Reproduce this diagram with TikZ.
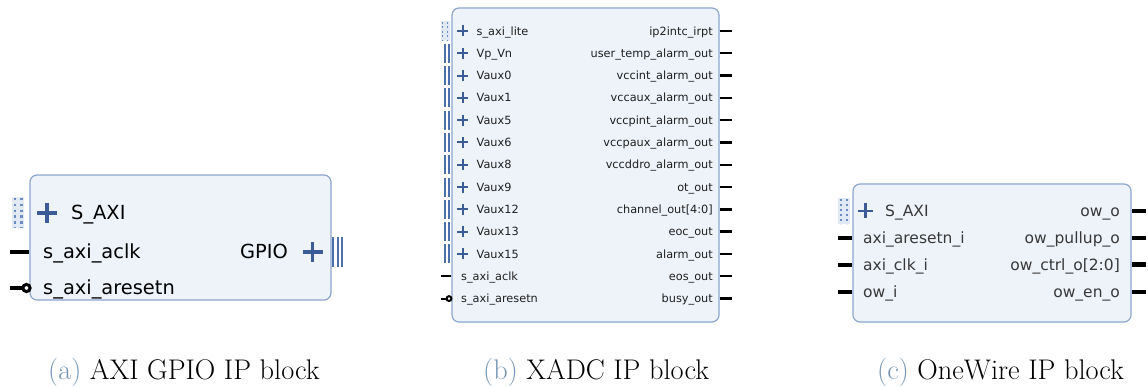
\documentclass[tikz,border=0pt]{standalone}
\usepackage{fontspec}
\newfontfamily\ipfont{DejaVu Sans}
\newfontfamily\capfont{Latin Modern Roman}
\usetikzlibrary{positioning,calc}

\definecolor{blockfill}{HTML}{EEF3FA}
\definecolor{blockline}{HTML}{8CA6CE}
\definecolor{plusblue}{HTML}{3B5C96}
\definecolor{busblue}{HTML}{4B70AA}
\definecolor{ifback}{HTML}{E1E9F5}
\definecolor{ifdots}{HTML}{6B8CC2}
\definecolor{capblue}{HTML}{7897B4}

\tikzset{
  addsign/.pic = {\draw (-1,0) -- (1,0) (0,-1) -- (0,1);}
}

\begin{document}
\begin{tikzpicture}[x=1pt,y=-1pt,
    ipblock/.style = {rectangle,rounded corners=7pt,draw=blockline,line width=1.2pt,fill=blockfill,inner sep=0pt},
    alabel/.style = {inner sep=0pt,text height=13.8pt,text depth=0pt,font=\ipfont\fontsize{19.4}{22}\selectfont},
    blabel/.style = {inner sep=0pt,text height=8.2pt,text depth=0pt,text=black!88,font=\ipfont\fontsize{11.3}{13}\selectfont},
    clabel/.style = {inner sep=0pt,text height=11.3pt,text depth=0pt,text=black!78,font=\ipfont\fontsize{15.5}{18}\selectfont},
    pinwire/.style = {draw=black,line width=#1},
    pinwire/.default = 3pt,
    plusmark/.style = {draw=plusblue,line cap=butt},
    busbar/.style = {draw=busblue,line width=#1},
    ifport/.style = {fill=ifback},
    ifdotted/.style = {draw=ifdots,line width=2.4pt,dash pattern=on 2.4pt off 3.4pt},
    captext/.style = {inner sep=0pt,text height=19pt,text depth=0pt,font=\capfont\fontsize{28.4}{32}\selectfont}
  ]
  \useasboundingbox (0,0) rectangle (1148,387);

  % (a) AXI GPIO
  \node (gpio) [ipblock,minimum width=301pt,minimum height=125pt] at (180.5,237.5) {};
  \fill[ifport] (12,197) rectangle (24,228);
  \draw[ifdotted] (15,198) -- (15,228) (21.5,198) -- (21.5,228);
  \pic[plusmark,scale=10,line width=3.4pt] at (47,213) {addsign};
  \node (gpio saxi) [alabel,anchor=west] at (71,213) {S\_AXI};
  \node (gpio aclk) [alabel,anchor=west] at (43,252) {s\_axi\_aclk};
  \node (gpio aresetn) [alabel,anchor=west] at (43,288) {s\_axi\_aresetn};
  \node (gpio port) [alabel,anchor=east] at (288,252) {GPIO};
  \pic[plusmark,scale=10,line width=3.4pt] at (312.5,252) {addsign};
  \coordinate (gpio aclk pin) at (10,252);
  \coordinate (gpio aresetn pin) at (10,288);
  \draw[pinwire=4pt] (gpio.west |- gpio aclk pin) -- (gpio aclk pin);
  \draw[pinwire=3.4pt] (gpio aresetn pin) -- ++(12,0) coordinate (gpio ring);
  \draw[line width=3pt] ($(gpio ring)+(4.5,0)$) circle (3.6pt);
  \foreach \bx in {333,337.5,342}
    \draw[busbar=2pt] (\bx,237) -- (\bx,267);

  % (b) XADC
  \node (xadc) [ipblock,minimum width=267pt,minimum height=314pt] at (585.5,165) {};
  \fill[ifport] (440.5,21) rectangle (450,41);
  \draw[ifdotted,line width=1.8pt,dash pattern=on 1.8pt off 2.6pt] (442.5,22) -- (442.5,41) (447.5,22) -- (447.5,41);
  \foreach \lname [count=\k from 0] in {s\_axi\_lite,Vp\_Vn,Vaux0,Vaux1,Vaux5,Vaux6,Vaux8,Vaux9,Vaux12,Vaux13,Vaux15}{
    \pgfmathsetmacro{\rowy}{31+22.3*\k}
    \node (xadc l\k) [blabel,anchor=west] at (476.5,\rowy) {\lname};
    \pic[plusmark,scale=5.5,line width=2pt] at (462.5,\rowy) {addsign};
  }
  \foreach \k in {1,...,10}{
    \pgfmathsetmacro{\rowy}{31+22.3*\k}
    \draw[busbar=1.7pt] (444.8,\rowy-9.5) -- (444.8,\rowy+9.5) (448.8,\rowy-9.5) -- (448.8,\rowy+9.5);
  }
  \node (xadc aclk) [blabel,anchor=west] at (461,276.3) {s\_axi\_aclk};
  \node (xadc aresetn) [blabel,anchor=west] at (461,298.6) {s\_axi\_aresetn};
  \coordinate (xadc aclk pin) at (441,276.3);
  \coordinate (xadc aresetn pin) at (441,298.6);
  \draw[pinwire=2.4pt] (xadc.west |- xadc aclk pin) -- (xadc aclk pin);
  \draw[pinwire=2.2pt] (xadc aresetn pin) -- ++(5,0) coordinate (xadc ring);
  \draw[line width=2pt] ($(xadc ring)+(3,0)$) circle (2.4pt);
  \foreach \rname [count=\k from 0] in {ip2intc\_irpt,user\_temp\_alarm\_out,vccint\_alarm\_out,vccaux\_alarm\_out,vccpint\_alarm\_out,vccpaux\_alarm\_out,vccddro\_alarm\_out,ot\_out,channel\_out[4:0],eoc\_out,alarm\_out,eos\_out,busy\_out}{
    \pgfmathsetmacro{\rowy}{31+22.3*\k}
    \pgfmathsetmacro{\lw}{\k==8 ? 3.6 : 2.4}
    \node (xadc r\k) [blabel,anchor=east] at (713,\rowy) {\rname};
    \coordinate (xadc r\k pin) at (731.5,\rowy);
    \draw[pinwire=\lw pt] (xadc.east |- xadc r\k pin) -- (xadc r\k pin);
  }

  % (c) OneWire
  \node (onewire) [ipblock,minimum width=278pt,minimum height=138pt] at (992,253) {};
  \fill[ifport] (838,198) rectangle (850,224);
  \draw[ifdotted,line width=2pt,dash pattern=on 2pt off 3pt] (841,199) -- (841,224) (847,199) -- (847,224);
  \pic[plusmark,scale=7.5,line width=2.6pt] at (865.5,211) {addsign};
  \node (ow saxi) [clabel,anchor=west] at (885,211) {S\_AXI};
  \foreach \lname/\rname/\lw [count=\k from 1] in {axi\_aresetn\_i/ow\_pullup\_o/3.2,axi\_clk\_i/ow\_ctrl\_o[2:0]/5,ow\_i/ow\_en\_o/3.2}{
    \pgfmathsetmacro{\rowy}{211+27*\k}
    \node (ow l\k) [clabel,anchor=west] at (863,\rowy) {\lname};
    \node (ow r\k) [clabel,anchor=east] at (1120,\rowy) {\rname};
    \coordinate (ow l\k pin) at (838,\rowy);
    \coordinate (ow r\k pin) at (1146,\rowy);
    \draw[pinwire=3.2pt] (onewire.west |- ow l\k pin) -- (ow l\k pin);
    \draw[pinwire=\lw pt] (onewire.east |- ow r\k pin) -- (ow r\k pin);
  }
  \node (ow out) [clabel,anchor=east] at (1120,211) {ow\_o};
  \coordinate (ow out pin) at (1146,211);
  \draw[pinwire=3.2pt] (onewire.east |- ow out pin) -- (ow out pin);

  % captions
  \node (cap gpio) [captext,anchor=west] at (48,370) {\textcolor{capblue}{(a)} AXI GPIO IP block};
  \node (cap xadc) [captext,anchor=west] at (483,370) {\textcolor{capblue}{(b)} XADC IP block};
  \node (cap ow) [captext,anchor=west] at (877,370) {\textcolor{capblue}{(c)} OneWire IP block};
\end{tikzpicture}
\end{document}
